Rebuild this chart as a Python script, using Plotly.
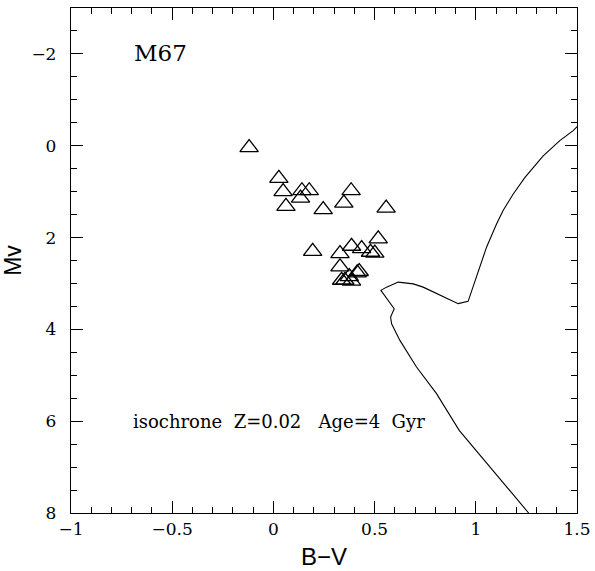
import plotly.graph_objects as go

# M67 stars: colour index B-V and absolute magnitude Mv
star_bv = [-0.12, 0.027, 0.048, 0.141, 0.177, 0.134, 0.062, 0.246, 0.348, 0.384,
           0.557, 0.194, 0.329, 0.386, 0.436, 0.518, 0.480, 0.501, 0.329, 0.424,
           0.414, 0.375, 0.337, 0.353, 0.386]
star_mv = [0.04, 0.71, 1.00, 0.98, 0.98, 1.14, 1.32, 1.39, 1.25, 0.98,
           1.36, 2.30, 2.35, 2.19, 2.24, 2.03, 2.32, 2.34, 2.64, 2.74,
           2.77, 2.85, 2.93, 2.93, 2.95]

# Isochrone Z=0.02, age 4 Gyr
iso_bv = [1.261, 1.089, 0.918, 0.806, 0.707, 0.625, 0.584, 0.579, 0.597, 0.531,
          0.559, 0.617, 0.691, 0.740, 0.806, 0.913, 0.962, 1.004, 1.053, 1.103,
          1.135, 1.185, 1.243, 1.333, 1.415, 1.481, 1.52]
iso_mv = [8.0, 7.10, 6.20, 5.40, 4.82, 4.24, 3.88, 3.73, 3.55, 3.15,
          3.08, 2.97, 3.01, 3.08, 3.22, 3.44, 3.39, 2.86, 2.21, 1.70,
          1.41, 1.05, 0.69, 0.22, -0.11, -0.33, -0.50]

x_ticks = [-1, -0.5, 0, 0.5, 1, 1.5]
x_tick_text = ["\u22121", "\u22120.5", "0", "0.5", "1", "1.5"]
y_ticks = [-2, 0, 2, 4, 6, 8]
y_tick_text = ["\u22122", "0", "2", "4", "6", "8"]

serif = "DejaVu Serif"
sans = "Liberation Sans"
nb = "\u00a0"

fig = go.Figure()
fig.add_trace(go.Scatter(
    x=iso_bv, y=iso_mv, mode="lines",
    line=dict(color="black", width=1.1),
    showlegend=False, hoverinfo="skip",
))
fig.add_trace(go.Scatter(
    x=star_bv, y=star_mv, mode="markers",
    marker=dict(symbol="triangle-up-open", size=16, color="black",
                line=dict(color="black", width=1.3)),
    showlegend=False,
))

fig.add_annotation(x=-0.7, y=-2.02, xref="x", yref="y", text="M67",
                   showarrow=False, xanchor="left", yanchor="middle",
                   font=dict(family=serif, size=23, color="black"))
fig.add_annotation(x=-0.703, y=6.0, xref="x", yref="y",
                   text=f"isochrone{nb*2}Z=0.02{nb*3}Age=4{nb*2}Gyr",
                   showarrow=False, xanchor="left", yanchor="middle",
                   font=dict(family=serif, size=18, color="black"))

axis_common = dict(
    showgrid=False, zeroline=False, automargin=False,
    showline=True, linecolor="black", linewidth=1.3, mirror="allticks",
    ticks="inside", ticklen=12, tickwidth=1, tickcolor="black",
    tickfont=dict(family=serif, size=17, color="black"),
)

fig.update_xaxes(
    range=[-1, 1.5], tickvals=x_ticks, ticktext=x_tick_text,
    minor=dict(ticks="inside", ticklen=6, dtick=0.1, tickwidth=1, tickcolor="black"),
    title=dict(text="B\u2212V", font=dict(family=sans, size=24, color="black"), standoff=10),
    **axis_common,
)
fig.update_yaxes(
    range=[8, -3], tickvals=y_ticks, ticktext=y_tick_text,
    ticklabelstandoff=10,
    minor=dict(ticks="inside", ticklen=6, dtick=0.5, tickwidth=1, tickcolor="black"),
    title=dict(text="Mv", font=dict(family=sans, size=23, color="black"), standoff=7),
    **axis_common,
)

fig.update_layout(
    width=595, height=571,
    margin=dict(l=71, r=18, t=8, b=58, autoexpand=False),
    plot_bgcolor="white", paper_bgcolor="white",
)

fig.write_html("out.html")
